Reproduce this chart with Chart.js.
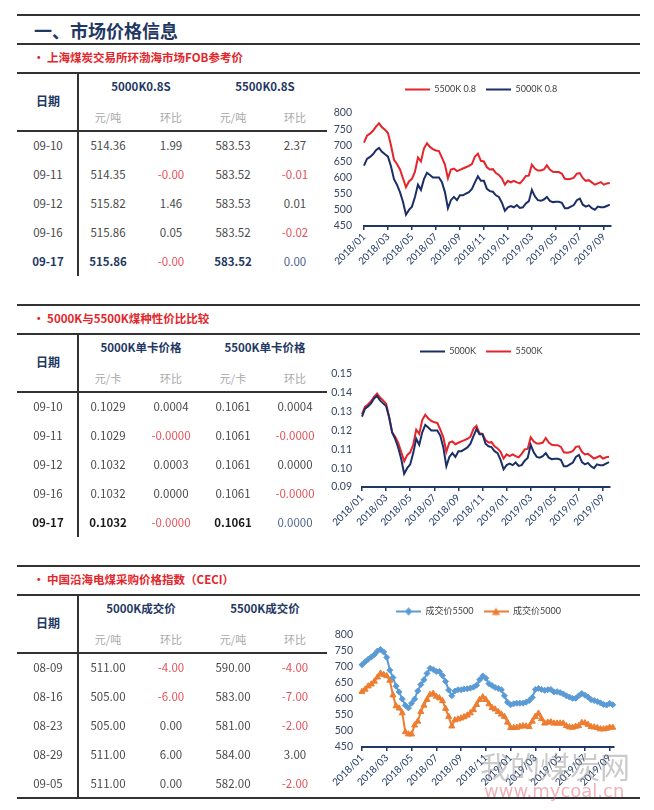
<!DOCTYPE html>
<html>
<head>
<meta charset="utf-8">
<script src="https://cdn.jsdelivr.net/npm/chart.js@4.4.0/dist/chart.umd.min.js"></script>
<style>
body { margin: 0; background: #fff; }
#page { position: relative; width: 654px; height: 810px; overflow: hidden; background: #fff;
        font-family: "Noto Sans CJK SC", "Noto Sans", sans-serif; }
.t { position: absolute; white-space: nowrap; line-height: 1; transform: translate(-50%, -50%); }
.t.left { transform: translate(0, -50%); }
.ln { position: absolute; background: #333; }
canvas { position: absolute; }
.wm { position: absolute; white-space: nowrap; pointer-events: none; line-height: 1; }
</style>
</head>
<body>
<div id="page">
  <canvas id="fobChart" width="306" height="201" style="left:328px;top:75px"></canvas>
  <canvas id="ratioChart" width="310" height="200" style="left:326px;top:337px"></canvas>
  <canvas id="ceciChart" width="305" height="200" style="left:326px;top:597px"></canvas>
</div>
<script>
// ---- table data ----
const fobDates = ['09-10', '09-11', '09-12', '09-16', '09-17'];
const fob5000 = ['514.36', '514.35', '515.82', '515.86', '515.86'];
const fob5000Chg = ['1.99', '-0.00', '1.46', '0.05', '-0.00'];
const fob5500 = ['583.53', '583.52', '583.53', '583.52', '583.52'];
const fob5500Chg = ['2.37', '-0.01', '0.01', '-0.02', '0.00'];

const ratioDates = ['09-10', '09-11', '09-12', '09-16', '09-17'];
const ratio5000 = ['0.1029', '0.1029', '0.1032', '0.1032', '0.1032'];
const ratio5000Chg = ['0.0004', '-0.0000', '0.0003', '0.0000', '-0.0000'];
const ratio5500 = ['0.1061', '0.1061', '0.1061', '0.1061', '0.1061'];
const ratio5500Chg = ['0.0004', '-0.0000', '0.0000', '-0.0000', '0.0000'];

const ceciDates = ['08-09', '08-16', '08-23', '08-29', '09-05'];
const ceci5000 = ['511.00', '505.00', '505.00', '511.00', '511.00'];
const ceci5000Chg = ['-4.00', '-6.00', '0.00', '6.00', '0.00'];
const ceci5500 = ['590.00', '583.00', '581.00', '584.00', '582.00'];
const ceci5500Chg = ['-4.00', '-7.00', '-2.00', '3.00', '-2.00'];

// ---- chart data: one value per quarter month from 2018/01 ----
const tickMonths = [0, 2, 4, 6, 8, 10, 12, 14, 16, 18, 20];
const tickLabels = ['2018/01', '2018/03', '2018/05', '2018/07', '2018/09', '2018/11',
                    '2019/01', '2019/03', '2019/05', '2019/07', '2019/09'];

const fobLine5500 = [
  708, 730, 736, 745, 758, 768, 756, 748, 738, 700,
  655, 642, 625, 598, 570, 588, 596, 618, 662, 650,
  690, 706, 695, 688, 684, 682, 662, 640, 598, 625,
  628, 620, 624, 628, 632, 636, 642, 665, 674, 652,
  650, 632, 625, 626, 614, 608, 598, 578, 590, 585,
  590, 585, 582, 592, 605, 606, 640, 628, 622, 622,
  625, 638, 625, 618, 617, 617, 612, 596, 595, 596,
  600, 612, 614, 598, 590, 592, 585, 578, 582, 586,
  578, 582, 583];
const fobLine5000 = [
  637, 658, 664, 672, 685, 692, 680, 672, 665, 635,
  595, 578, 555, 525, 485, 500, 510, 540, 578, 562,
  595, 615, 608, 600, 600, 600, 586, 555, 505, 530,
  540, 530, 545, 545, 550, 555, 565, 585, 604, 590,
  590, 565, 558, 556, 545, 540, 522, 497, 508, 512,
  508, 515, 506, 508, 520, 527, 562, 542, 530, 528,
  532, 540, 528, 524, 525, 525, 522, 505, 505, 510,
  515, 530, 535, 516, 510, 514, 505, 500, 510, 508,
  508, 512, 516];

const ratioLine5000 = [
  0.1274, 0.1316, 0.1328, 0.1344, 0.1370, 0.1384, 0.1360, 0.1344, 0.1330, 0.1270,
  0.1190, 0.1156, 0.1110, 0.1050, 0.0970, 0.1000, 0.1020, 0.1080, 0.1156, 0.1124,
  0.1190, 0.1230, 0.1216, 0.1200, 0.1200, 0.1200, 0.1172, 0.1110, 0.1010, 0.1060,
  0.1080, 0.1060, 0.1090, 0.1090, 0.1100, 0.1110, 0.1130, 0.1170, 0.1208, 0.1180,
  0.1180, 0.1130, 0.1116, 0.1112, 0.1090, 0.1080, 0.1044, 0.0994, 0.1016, 0.1024,
  0.1016, 0.1030, 0.1012, 0.1016, 0.1040, 0.1054, 0.1124, 0.1084, 0.1060, 0.1056,
  0.1064, 0.1080, 0.1056, 0.1048, 0.1050, 0.1050, 0.1044, 0.1010, 0.1010, 0.1020,
  0.1030, 0.1060, 0.1070, 0.1032, 0.1020, 0.1028, 0.1010, 0.1000, 0.1020, 0.1016,
  0.1016, 0.1024, 0.1032];
const ratioLine5500 = [
  0.1287, 0.1327, 0.1338, 0.1355, 0.1378, 0.1396, 0.1375, 0.1360, 0.1342, 0.1273,
  0.1191, 0.1167, 0.1136, 0.1087, 0.1036, 0.1069, 0.1084, 0.1124, 0.1204, 0.1182,
  0.1255, 0.1284, 0.1264, 0.1251, 0.1244, 0.1240, 0.1204, 0.1164, 0.1087, 0.1136,
  0.1142, 0.1127, 0.1135, 0.1142, 0.1149, 0.1156, 0.1167, 0.1209, 0.1225, 0.1185,
  0.1182, 0.1149, 0.1136, 0.1138, 0.1116, 0.1105, 0.1087, 0.1051, 0.1073, 0.1064,
  0.1073, 0.1064, 0.1058, 0.1076, 0.1100, 0.1102, 0.1164, 0.1142, 0.1131, 0.1131,
  0.1136, 0.1160, 0.1136, 0.1124, 0.1122, 0.1122, 0.1113, 0.1084, 0.1082, 0.1084,
  0.1091, 0.1113, 0.1116, 0.1087, 0.1073, 0.1076, 0.1064, 0.1051, 0.1058, 0.1065,
  0.1051, 0.1058, 0.1060];

const ceciLine5500 = [
  707, 716, 724, 731, 739, 750, 755, 747, 730, 690,
  667, 640, 622, 600, 580, 572, 587, 600, 625, 645,
  660, 680, 696, 692, 686, 686, 673, 655, 628, 610,
  625, 629, 629, 631, 632, 634, 637, 643, 660, 672,
  665, 648, 642, 636, 633, 629, 610, 590, 582, 585,
  587, 587, 587, 590, 595, 605, 630, 633, 630, 627,
  629, 630, 622, 623, 620, 616, 610, 606, 602, 602,
  610, 617, 612, 606, 598, 595, 592, 588, 583, 581,
  586, 582];
const ceciLine5000 = [
  623, 630, 640, 646, 655, 668, 680, 676, 672, 658,
  612, 578, 571, 556, 497, 490, 490, 518, 530, 560,
  580, 598, 614, 617, 608, 603, 594, 570, 545, 515,
  534, 537, 540, 544, 549, 556, 566, 582, 598, 606,
  598, 584, 573, 568, 560, 552, 545, 527, 510, 510,
  511, 514, 516, 515, 513, 530, 545, 555, 538, 524,
  527, 528, 524, 524, 524, 524, 516, 512, 511, 514,
  516, 526, 525, 520, 513, 512, 510, 506, 506, 508,
  511, 511];

// ---- colours ----
const NAVY = '#1F3864';
const RED_TXT = '#E3262B';
const NEG = '#E0535A';
const GREY = '#4a4a4a';

const page = document.getElementById('page');

function addText(str, x, y, css, left) {
  const d = document.createElement('div');
  d.className = left ? 't left' : 't';
  d.textContent = str;
  d.style.left = x + 'px';
  d.style.top = y + 'px';
  Object.assign(d.style, css || {});
  page.appendChild(d);
}

function hline(y, x1, x2, w) {
  const d = document.createElement('div');
  d.className = 'ln';
  Object.assign(d.style, { left: x1 + 'px', top: (y - w / 2) + 'px', width: (x2 - x1) + 'px', height: w + 'px' });
  page.appendChild(d);
}

function vline(x, y1, y2, w) {
  const d = document.createElement('div');
  d.className = 'ln';
  Object.assign(d.style, { left: (x - w / 2) + 'px', top: y1 + 'px', width: w + 'px', height: (y2 - y1) + 'px' });
  page.appendChild(d);
}

// section header with top rule, red bullet title and rule below
function section(topY, title) {
  hline(topY, 17, 640, 2);
  addText('• ' + title, 33, topY + 14, { color: RED_TXT, fontSize: '11.5px', fontWeight: 'bold' }, true);
  hline(topY + 29, 17, 640, 2);
  return topY + 29;
}

function table(base, heads, units, dates, cols, lastColor) {
  vline(78, base, base + 203, 1.5);
  addText('日期', 48, base + 28, { color: NAVY, fontSize: '12px', fontWeight: 'bold' });
  addText(heads[0], 141, base + 14, { color: NAVY, fontSize: '11.5px', fontWeight: 'bold' });
  addText(heads[1], 265, base + 14, { color: NAVY, fontSize: '11.5px', fontWeight: 'bold' });
  const colX = [108, 171, 233, 295];
  [units, '环比', units, '环比'].forEach((u, i) => {
    addText(u, colX[i], base + 44, { color: '#A8A8A8', fontSize: '11px' });
  });
  hline(base + 58, 17, 327, 1.5);
  dates.forEach((d, r) => {
    const y = base + 73 + r * 29;
    const last = lastColor && r === dates.length - 1;
    addText(d, 48, y, { color: last ? lastColor : GREY, fontSize: '11.5px', fontWeight: last ? 'bold' : 'normal' });
    cols.forEach((col, c) => {
      const v = col[r];
      const isChg = c % 2 === 1;
      let color = GREY, weight = 'normal';
      if (isChg && v.startsWith('-')) color = NEG;
      else if (last && !isChg) { color = lastColor; weight = 'bold'; }
      else if (last && isChg) color = '#50648F';
      addText(v, colX[c], y, { color: color, fontSize: '11.5px', fontWeight: weight });
    });
  });
}

// ---- page title ----
hline(15, 17, 640, 2);
addText('一、市场价格信息', 34, 30, { color: NAVY, fontSize: '18px', fontWeight: 'bold' }, true);
hline(44, 17, 640, 2);
addText('• 上海煤炭交易所环渤海市场FOB参考价', 33, 58, { color: RED_TXT, fontSize: '11.5px', fontWeight: 'bold' }, true);
hline(73, 17, 640, 2);
table(73, ['5000K0.8S', '5500K0.8S'], '元/吨', fobDates,
      [fob5000, fob5000Chg, fob5500, fob5500Chg], NAVY);

const base2 = section(305, '5000K与5500K煤种性价比比较');
table(base2, ['5000K单卡价格', '5500K单卡价格'], '元/卡', ratioDates,
      [ratio5000, ratio5000Chg, ratio5500, ratio5500Chg], '#1a1a1a');

const base3 = section(566, '中国沿海电煤采购价格指数（CECI）');
table(base3, ['5000K成交价', '5500K成交价'], '元/吨', ceciDates,
      [ceci5000, ceci5000Chg, ceci5500, ceci5500Chg], null);
hline(base3 + 203, 17, 640, 2);

// ---- charts ----
const step = 0.25; // months between points
const toPoints = arr => arr.map((v, i) => ({ x: i * step, y: v }));
const FONT = 'Lato, "Noto Sans CJK SC", sans-serif';

function swatch(color, marker) {
  const c = document.createElement('canvas');
  c.width = 25; c.height = 10;
  const g = c.getContext('2d');
  g.strokeStyle = color; g.fillStyle = color; g.lineWidth = 2;
  g.beginPath(); g.moveTo(0, 5); g.lineTo(25, 5); g.stroke();
  if (marker === 'rectRot') {
    g.beginPath(); g.moveTo(12.5, 1); g.lineTo(16.5, 5); g.lineTo(12.5, 9); g.lineTo(8.5, 5); g.closePath(); g.fill();
  } else if (marker === 'triangle') {
    g.beginPath(); g.moveTo(12.5, 1); g.lineTo(16.5, 8.5); g.lineTo(8.5, 8.5); g.closePath(); g.fill();
  }
  return c;
}

// adds blank space between the legend and the plot
function legendGap(gap) {
  return {
    id: 'legendGap',
    beforeInit(chart) {
      const fit = chart.legend.fit;
      chart.legend.fit = function () { fit.call(this); this.height += gap; };
    }
  };
}

function lineChart(id, cfg) {
  const swatches = cfg.series.map(s => swatch(s.color, s.point));
  return new Chart(document.getElementById(id), {
    type: 'line',
    data: {
      datasets: cfg.series.map(s => ({
        label: s.label,
        data: toPoints(s.data),
        borderColor: s.color,
        backgroundColor: s.color,
        borderWidth: 2,
        pointStyle: s.point || 'circle',
        pointRadius: s.point ? (s.point === 'triangle' ? 3.5 : 3) : 0,
        pointBorderWidth: 1,
        tension: 0,
        clip: 6
      }))
    },
    options: {
      responsive: false,
      animation: false,
      layout: { padding: { left: 2, right: 2, top: 0, bottom: 0 } },
      plugins: {
        tooltip: { enabled: false },
        legend: {
          position: 'top',
          labels: {
            usePointStyle: true,
            pointStyleWidth: 25,
            padding: 10,
            color: '#404040',
            font: { family: FONT, size: 9 },
            generateLabels: chart => Chart.defaults.plugins.legend.labels.generateLabels(chart)
              .map((item, i) => Object.assign(item, { pointStyle: swatches[i] }))
          }
        }
      },
      scales: {
        x: {
          type: 'linear',
          min: 0,
          max: cfg.xMax,
          afterBuildTicks: s => { s.ticks = tickMonths.map(v => ({ value: v })); },
          afterFit: s => { s.height = 50; s.paddingLeft = 0; s.paddingRight = 0; },
          grid: { display: true, drawOnChartArea: false, drawTicks: true, tickLength: 4, color: NAVY, lineWidth: 1.5 },
          border: { display: true, color: NAVY, width: 2 },
          ticks: {
            autoSkip: false, minRotation: 45, maxRotation: 45, padding: 1,
            color: NAVY, font: { family: FONT, size: 10 },
            callback: (v, i) => tickLabels[i]
          }
        },
        y: {
          min: cfg.yMin,
          max: cfg.yMax,
          afterFit: s => { s.width = 34; },
          grid: { display: false, drawTicks: false },
          border: { display: false },
          ticks: {
            stepSize: cfg.yStep, padding: cfg.yPad,
            color: '#3A4663', font: { family: FONT, size: 10.5 },
            callback: cfg.yFmt
          }
        },
        // empty right box, only keeps the legend centred where the original has it
        yRight: {
          position: 'right',
          grid: { display: false, drawTicks: false },
          border: { display: false },
          ticks: { display: false },
          afterFit: s => { s.width = cfg.rightSpace; }
        }
      }
    },
    plugins: [legendGap(cfg.gap)]
  });
}

lineChart('fobChart', {
  series: [
    { label: '5500K 0.8', data: fobLine5500, color: '#E5242B' },
    { label: '5000K 0.8', data: fobLine5000, color: '#1B2F66' }
  ],
  rightSpace: 21, yPad: 12, gap: 9, xMax: 20.6,
  yMin: 450, yMax: 800, yStep: 50, yFmt: v => v
});

lineChart('ratioChart', {
  series: [
    { label: '5000K', data: ratioLine5000, color: '#1B2F66' },
    { label: '5500K', data: ratioLine5500, color: '#E5242B' }
  ],
  rightSpace: 24, yPad: 10, gap: 8, xMax: 20.58,
  yMin: 0.09, yMax: 0.15, yStep: 0.01, yFmt: v => v.toFixed(2)
});

lineChart('ceciChart', {
  series: [
    { label: '成交价5500', data: ceciLine5500, color: '#5B9BD5', point: 'rectRot' },
    { label: '成交价5000', data: ceciLine5000, color: '#ED7D31', point: 'triangle' }
  ],
  rightSpace: 15, yPad: 9, gap: 9, xMax: 20.35,
  yMin: 450, yMax: 800, yStep: 50, yFmt: v => v
});

// ---- watermark ----
const wm1 = document.createElement('div');
wm1.className = 'wm';
wm1.textContent = '我的煤炭网';
Object.assign(wm1.style, { left: '480px', top: '750px', fontSize: '30px', color: 'rgba(140,140,140,0.45)' });
page.appendChild(wm1);
const wm2 = document.createElement('div');
wm2.className = 'wm';
wm2.textContent = 'www.mycoal.cn';
Object.assign(wm2.style, { left: '484px', top: '782px', fontSize: '18px', fontFamily: '"DejaVu Sans", sans-serif', color: 'rgba(225,100,115,0.5)' });
page.appendChild(wm2);
</script>
</body>
</html>
